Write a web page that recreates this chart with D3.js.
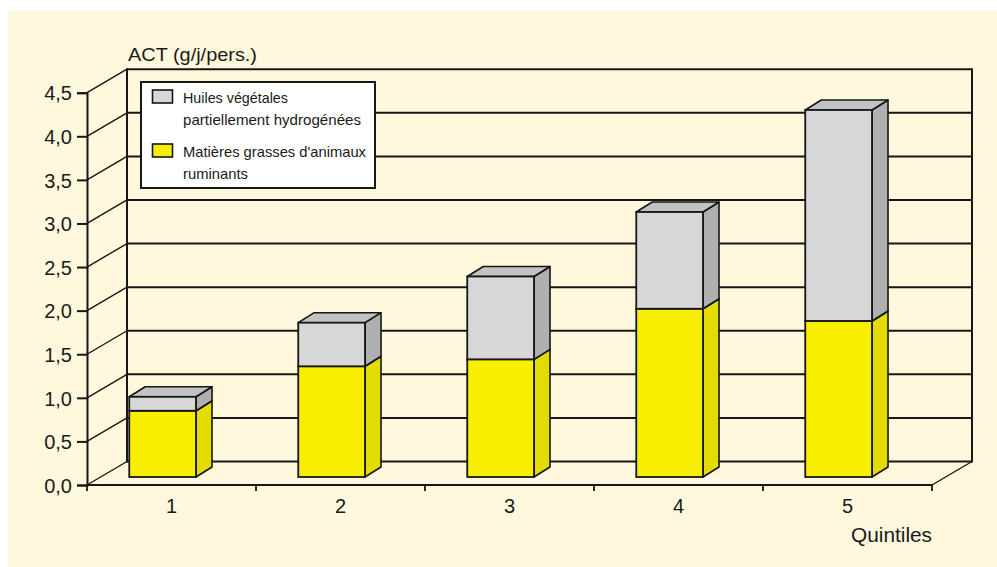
<!DOCTYPE html>
<html>
<head>
<meta charset="utf-8">
<script src="https://cdn.jsdelivr.net/npm/d3@7"></script>
<style>
  html, body { margin: 0; padding: 0; background: #ffffff; }
  svg { display: block; }
  text { font-family: "Liberation Sans", Arial, sans-serif; fill: #1a1a1a; }
</style>
</head>
<body>
<svg id="chart" width="997" height="567"></svg>
<script>
// Quintile categories and the two stacked trans fatty acid sources (g/day/person)
const quintiles = ["1", "2", "3", "4", "5"];
const ruminantFat = [0.76, 1.27, 1.35, 1.93, 1.79];
const hydrogenatedOil = [0.16, 0.50, 0.95, 1.11, 2.42];
const yTicks = [0, 0.5, 1, 1.5, 2, 2.5, 3, 3.5, 4, 4.5];
const legendLines = [
  ["Huiles végétales", "partiellement hydrogénées"],
  ["Matières grasses d'animaux", "ruminants"]
];
const titleText = "ACT (g/j/pers.)";
const xTitleText = "Quintiles";

const svg = d3.select("#chart");
const ink = "#161616";
const fmt = v => d3.format(".1f")(v).replace(".", ",");

// Front plane of the 3D box
const x0 = 87, x1 = 932;
const y = d3.scaleLinear().domain([0, 4.5]).range([485, 92.7]);
const xCat = d3.scaleBand().domain(quintiles).range([x0, x1]).padding(0);

// Depth of the box (back wall offset) and of each bar
const wall = { dx: 40, dy: -23.5 };
const barShift = { dx: 0, dy: -8 };
const barDepth = { dx: 16, dy: -10 };

// Background
svg.append("rect").attr("x", 8).attr("y", 11).attr("width", 989).attr("height", 556)
  .attr("fill", "#FFF8DC");

const g = svg.append("g");

// Back wall gridlines
g.selectAll("line.grid").data(yTicks).join("line")
  .attr("class", "grid")
  .attr("x1", x0 + wall.dx).attr("x2", x1 + wall.dx)
  .attr("y1", d => y(d) + wall.dy).attr("y2", d => y(d) + wall.dy)
  .attr("stroke", ink).attr("stroke-width", 2);

// Left wall diagonals
g.selectAll("line.diag").data(yTicks).join("line")
  .attr("class", "diag")
  .attr("x1", x0).attr("y1", d => y(d))
  .attr("x2", x0 + wall.dx).attr("y2", d => y(d) + wall.dy)
  .attr("stroke", ink).attr("stroke-width", 1.4);

// Back wall verticals
[x0 + wall.dx, x1 + wall.dx].forEach(xx => {
  g.append("line")
    .attr("x1", xx).attr("x2", xx)
    .attr("y1", y(4.5) + wall.dy - 1).attr("y2", y(0) + wall.dy + 1)
    .attr("stroke", ink).attr("stroke-width", 2);
});

// Floor right edge
g.append("line")
  .attr("x1", x1).attr("y1", y(0))
  .attr("x2", x1 + wall.dx).attr("y2", y(0) + wall.dy)
  .attr("stroke", ink).attr("stroke-width", 1.4);

// Y axis
const yAxis = g.append("g").attr("transform", `translate(${x0},0)`)
  .call(d3.axisLeft(y).tickValues(yTicks).tickFormat(fmt).tickSize(10).tickPadding(5));
yAxis.select(".domain").attr("stroke", ink).attr("stroke-width", 2);
yAxis.selectAll(".tick line").attr("stroke", ink).attr("stroke-width", 2);
yAxis.selectAll(".tick text")
  .attr("font-size", 20).attr("fill", "#1a1a1a")
  .attr("font-family", "Liberation Sans, Arial, sans-serif")
  .attr("dy", "0.36em");

// X axis baseline and category boundary ticks
g.append("line").attr("x1", x0).attr("x2", x1).attr("y1", y(0)).attr("y2", y(0))
  .attr("stroke", ink).attr("stroke-width", 2);
const bounds = quintiles.map(q => xCat(q)).concat([x1]);
g.selectAll("line.xtick").data(bounds).join("line")
  .attr("class", "xtick")
  .attr("x1", d => d).attr("x2", d => d)
  .attr("y1", y(0)).attr("y2", y(0) + 6)
  .attr("stroke", ink).attr("stroke-width", 1.8);
g.selectAll("text.xlab").data(quintiles).join("text")
  .attr("class", "xlab")
  .attr("x", d => xCat(d) + xCat.bandwidth() / 2)
  .attr("y", 513)
  .attr("text-anchor", "middle")
  .attr("font-size", 20)
  .text(d => d);

// Stacked 3D bars
const series = [
  { key: "ruminants", values: ruminantFat, front: "#F7EE00", side: "#E4DB00", top: "#EDE400" },
  { key: "hydrogenated", values: hydrogenatedOil, front: "#D7D7D7", side: "#B0B0B0", top: "#C2C2C2" }
];
const stacked = d3.stack().keys(["ruminants", "hydrogenated"])(
  quintiles.map((q, i) => ({ q, ruminants: ruminantFat[i], hydrogenated: hydrogenatedOil[i] }))
);

const bars = g.append("g");
quintiles.forEach((q, i) => {
  const bx = xCat(q) + xCat.bandwidth() * 0.25 + barShift.dx;
  const bw = xCat.bandwidth() * 0.395;
  const bg = bars.append("g");
  stacked.forEach((layer, li) => {
    const s = series[li];
    const v0 = layer[i][0], v1 = layer[i][1];
    const yb = y(v0) + barShift.dy, yt = y(v1) + barShift.dy;
    const dx = barDepth.dx, dy = barDepth.dy;
    // side face
    bg.append("path")
      .attr("d", `M${bx + bw},${yb} L${bx + bw + dx},${yb + dy} L${bx + bw + dx},${yt + dy} L${bx + bw},${yt} Z`)
      .attr("fill", s.side).attr("stroke", ink).attr("stroke-width", 1.6).attr("stroke-linejoin", "round");
    // top face
    bg.append("path")
      .attr("d", `M${bx},${yt} L${bx + dx},${yt + dy} L${bx + bw + dx},${yt + dy} L${bx + bw},${yt} Z`)
      .attr("fill", s.top).attr("stroke", ink).attr("stroke-width", 1.6).attr("stroke-linejoin", "round");
    // front face
    bg.append("rect")
      .attr("x", bx).attr("y", yt).attr("width", bw).attr("height", yb - yt)
      .attr("fill", s.front).attr("stroke", ink).attr("stroke-width", 1.8);
  });
});

// Titles
svg.append("text").attr("x", 128).attr("y", 61)
  .attr("font-size", 19).attr("textLength", 129).attr("lengthAdjust", "spacingAndGlyphs")
  .text(titleText);
svg.append("text").attr("x", x1).attr("y", 542)
  .attr("text-anchor", "end").attr("font-size", 20)
  .attr("textLength", 81).attr("lengthAdjust", "spacingAndGlyphs")
  .text(xTitleText);

// Legend
const lg = svg.append("g");
lg.append("rect").attr("x", 141).attr("y", 82).attr("width", 234).attr("height", 106)
  .attr("fill", "#ffffff").attr("stroke", ink).attr("stroke-width", 2);
const legendSwatch = [series[1], series[0]];
const lineWidths = [[105, 178], [183, 65]];
legendLines.forEach((lines, k) => {
  const top = 90 + k * 54;
  lg.append("rect").attr("x", 152.5).attr("y", top).attr("width", 20).attr("height", 13)
    .attr("fill", legendSwatch[k].front).attr("stroke", ink).attr("stroke-width", 1.6);
  lines.forEach((t, j) => {
    lg.append("text")
      .attr("x", 183).attr("y", top + 13 + j * 21.5)
      .attr("font-size", 14.5)
      .attr("textLength", lineWidths[k][j]).attr("lengthAdjust", "spacingAndGlyphs")
      .text(t);
  });
});
</script>
</body>
</html>
